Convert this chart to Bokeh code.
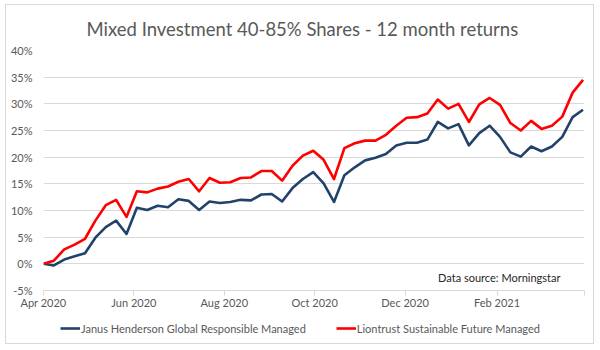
import pandas as pd
from bokeh.plotting import figure
from bokeh.layouts import column
from bokeh.models import FixedTicker, Legend, LegendItem, Label, Range1d
from bokeh.embed import file_html
from bokeh.resources import INLINE

# ---- data ----
dates = pd.date_range("2020-04-01", periods=53, freq="7D")
janus = [0, -0.3, 0.8, 1.4, 2.0, 4.9, 6.9, 8.1, 5.6, 10.5,
         10.1, 10.9, 10.6, 12.1, 11.8, 10.1, 11.7, 11.4, 11.6, 12.0,
         11.9, 13.0, 13.1, 11.7, 14.2, 15.9, 17.2, 15.1, 11.6, 16.6,
         18.1, 19.4, 19.9, 20.6, 22.2, 22.7, 22.7, 23.3, 26.6, 25.4,
         26.2, 22.2, 24.5, 25.9, 23.8, 20.9, 20.1, 22.0, 21.1, 22.0,
         23.8, 27.5, 28.9]
liontrust = [0, 0.6, 2.7, 3.6, 4.7, 8.1, 11.0, 12.0, 8.8, 13.6,
             13.4, 14.1, 14.5, 15.4, 15.9, 13.6, 16.1, 15.2, 15.3, 16.1,
             16.2, 17.4, 17.4, 15.6, 18.4, 20.3, 21.2, 19.5, 15.9, 21.7,
             22.6, 23.1, 23.1, 24.2, 25.9, 27.4, 27.5, 28.2, 30.8, 29.1,
             30.0, 26.6, 29.9, 31.1, 29.8, 26.4, 25.0, 26.8, 25.3, 25.9,
             27.6, 32.1, 34.5]
series_names = ["Janus Henderson Global Responsible Managed",
                "Liontrust Sustainable Future Managed"]
x_tick_dates = ["2020-04-01", "2020-06-01", "2020-08-01", "2020-10-01",
                "2020-12-01", "2021-02-01", "2021-04-01"]
x_tick_labels = ["Apr 2020", "Jun 2020", "Aug 2020", "Oct 2020",
                 "Dec 2020", "Feb 2021", ""]
y_ticks = [-5, 0, 5, 10, 15, 20, 25, 30, 35, 40]
title_text = "Mixed Investment 40-85% Shares - 12 month returns"
source_text = "Data source: Morningstar"

FONT = "Lato"
GREY = "#595959"
GRID = "#d9d9d9"
BLUE = "#22426b"
RED = "#ff0000"

def ms(d):
    return pd.Timestamp(d).value // 10**6

xr = Range1d(ms("2020-04-01"), ms("2021-04-01"))
yr = Range1d(-5, 40)

# ---- main chart ----
p = figure(frame_width=541, frame_height=240, x_axis_type="datetime",
           x_range=xr, y_range=yr, title=title_text,
           output_backend="svg", toolbar_location=None,
           min_border_left=37, min_border_right=9,
           min_border_top=45, min_border_bottom=23)
p.outline_line_color = None
p.background_fill_color = "white"
p.border_fill_color = "white"

p.title.align = "left"
p.title.offset = 43
p.title.standoff = 21
p.title.text_font = FONT
p.title.text_font_size = "18.5px"
p.title.text_font_style = "normal"
p.title.text_color = GREY

p.line(dates, janus, line_color=BLUE, line_width=2.6, line_join="round")
p.line(dates, liontrust, line_color=RED, line_width=2.6, line_join="round")

xa = p.xaxis[0]
xa.ticker = FixedTicker(ticks=[ms(d) for d in x_tick_dates])
xa.major_label_overrides = {ms(d): lab for d, lab in zip(x_tick_dates, x_tick_labels)}
xa.axis_line_color = GRID
xa.major_tick_line_color = GRID
xa.major_tick_out = 5
xa.major_tick_in = 0
xa.minor_tick_line_color = None
xa.major_label_standoff = 0
xa.major_label_text_font = FONT
xa.major_label_text_font_size = "11px"
xa.major_label_text_color = GREY

ya = p.yaxis[0]
ya.ticker = FixedTicker(ticks=y_ticks)
ya.major_label_overrides = {v: f"{v}%" for v in y_ticks}
ya.axis_line_color = None
ya.major_tick_line_color = None
ya.minor_tick_line_color = None
ya.major_tick_out = 0
ya.major_tick_in = 0
ya.major_label_standoff = 11
ya.major_label_text_font = FONT
ya.major_label_text_font_size = "11px"
ya.major_label_text_color = GREY

p.xgrid.grid_line_color = None
p.ygrid.grid_line_color = GRID
p.ygrid.grid_line_width = 1

p.add_layout(Label(x=ms("2021-03-15 19:00"), y=-2.57, text=source_text,
                   text_align="right", text_baseline="middle",
                   text_font=FONT, text_font_size="11px", text_color="#262626"))

# ---- legend strip ----
pl = figure(width=587, height=30, x_axis_type="datetime",
            x_range=xr, y_range=yr,
            x_axis_location=None, y_axis_location=None,
            output_backend="svg", toolbar_location=None, min_border=0)
pl.outline_line_color = None
pl.grid.visible = False
pl.border_fill_color = "white"
l1 = pl.line(dates, janus, line_color=BLUE, line_width=2.6, visible=False)
l2 = pl.line(dates, liontrust, line_color=RED, line_width=2.6, visible=False)

legend = Legend(items=[LegendItem(label=series_names[0], renderers=[l1]),
                       LegendItem(label=series_names[1], renderers=[l2])],
                orientation="horizontal", location=(17, 5),
                glyph_width=20, glyph_height=20, label_height=20,
                label_standoff=1, spacing=30, padding=0, margin=0,
                border_line_color=None, background_fill_alpha=0,
                inactive_fill_alpha=0,
                label_text_font=FONT, label_text_font_size="11px",
                label_text_color=GREY)
pl.add_layout(legend, "center")

layout = column(p, pl, spacing=0)
layout.styles = {"margin-left": "5px", "margin-top": "4px",
                 "border": "1px solid #d9d9d9"}

open("out.html", "w").write(file_html(layout, INLINE))
